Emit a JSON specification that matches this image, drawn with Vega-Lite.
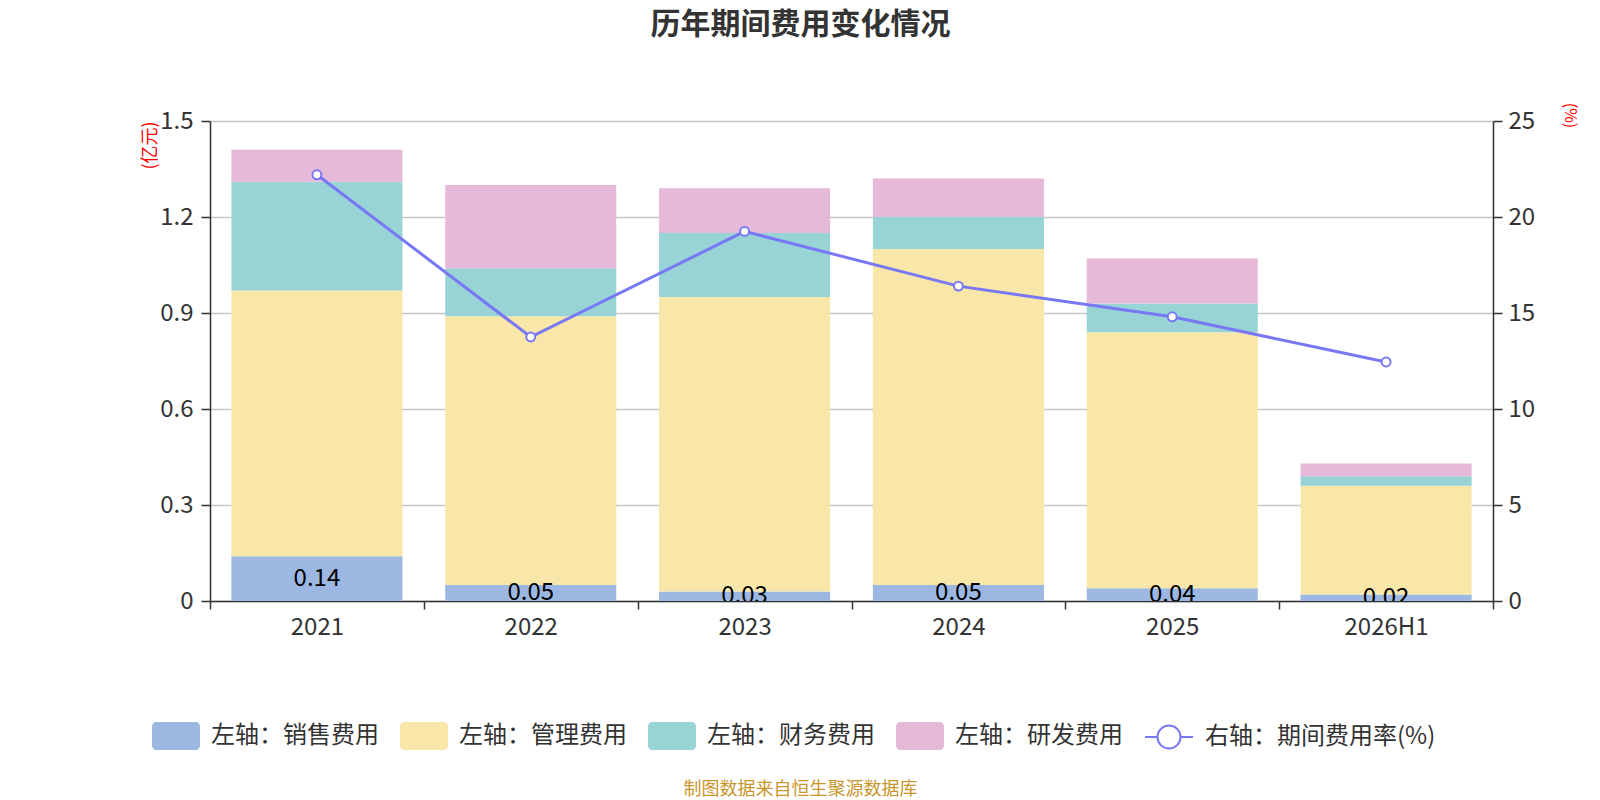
{
  "$schema": "https://vega.github.io/schema/vega-lite/v6.json",
  "width": 1283,
  "height": 480,
  "autosize": "none",
  "padding": {"left": 210, "top": 121, "right": 107, "bottom": 199},
  "background": "white",
  "title": {
    "text": "历年期间费用变化情况",
    "fontSize": 30,
    "fontWeight": "bold",
    "color": "#333333",
    "anchor": "middle",
    "frame": "group",
    "dx": -51,
    "offset": 62
  },
  "datasets": {
    "costs": [
      {"year": "2021", "type": "左轴：销售费用", "value": 0.14},
      {"year": "2021", "type": "左轴：管理费用", "value": 0.83},
      {"year": "2021", "type": "左轴：财务费用", "value": 0.34},
      {"year": "2021", "type": "左轴：研发费用", "value": 0.10},
      {"year": "2022", "type": "左轴：销售费用", "value": 0.05},
      {"year": "2022", "type": "左轴：管理费用", "value": 0.84},
      {"year": "2022", "type": "左轴：财务费用", "value": 0.15},
      {"year": "2022", "type": "左轴：研发费用", "value": 0.26},
      {"year": "2023", "type": "左轴：销售费用", "value": 0.03},
      {"year": "2023", "type": "左轴：管理费用", "value": 0.92},
      {"year": "2023", "type": "左轴：财务费用", "value": 0.20},
      {"year": "2023", "type": "左轴：研发费用", "value": 0.14},
      {"year": "2024", "type": "左轴：销售费用", "value": 0.05},
      {"year": "2024", "type": "左轴：管理费用", "value": 1.05},
      {"year": "2024", "type": "左轴：财务费用", "value": 0.10},
      {"year": "2024", "type": "左轴：研发费用", "value": 0.12},
      {"year": "2025", "type": "左轴：销售费用", "value": 0.04},
      {"year": "2025", "type": "左轴：管理费用", "value": 0.80},
      {"year": "2025", "type": "左轴：财务费用", "value": 0.09},
      {"year": "2025", "type": "左轴：研发费用", "value": 0.14},
      {"year": "2026H1", "type": "左轴：销售费用", "value": 0.02},
      {"year": "2026H1", "type": "左轴：管理费用", "value": 0.34},
      {"year": "2026H1", "type": "左轴：财务费用", "value": 0.03},
      {"year": "2026H1", "type": "左轴：研发费用", "value": 0.04}
    ],
    "typeOrder": [
      {"type": "左轴：销售费用", "rank": 1},
      {"type": "左轴：管理费用", "rank": 2},
      {"type": "左轴：财务费用", "rank": 3},
      {"type": "左轴：研发费用", "rank": 4}
    ],
    "rate": [
      {"year": "2021", "series": "右轴：期间费用率(%)", "rate": 22.2},
      {"year": "2022", "series": "右轴：期间费用率(%)", "rate": 13.75},
      {"year": "2023", "series": "右轴：期间费用率(%)", "rate": 19.25},
      {"year": "2024", "series": "右轴：期间费用率(%)", "rate": 16.4},
      {"year": "2025", "series": "右轴：期间费用率(%)", "rate": 14.8},
      {"year": "2026H1", "series": "右轴：期间费用率(%)", "rate": 12.45}
    ]
  },
  "layer": [
    {
      "data": {"name": "costs"},
      "transform": [
        {"lookup": "type", "from": {"data": {"name": "typeOrder"}, "key": "type", "fields": ["rank"]}}
      ],
      "mark": {"type": "bar", "width": {"band": 0.8}},
      "encoding": {
        "x": {
          "field": "year",
          "type": "nominal",
          "sort": null,
          "scale": {"paddingInner": 0, "paddingOuter": 0},
          "axis": {
            "title": "制图数据来自恒生聚源数据库",
            "titleColor": "#C9962E",
            "titleFontSize": 18,
            "titleFontWeight": "normal",
            "titleX": 590,
            "titleY": 188,
            "titleAlign": "center",
            "titleBaseline": "middle",
            "labelAngle": 0,
            "tickBand": "extent",
            "tickSize": 8,
            "labelPadding": 6
          }
        },
        "y": {
          "field": "value",
          "type": "quantitative",
          "stack": "zero",
          "scale": {"domain": [0, 1.5], "nice": false},
          "axis": {
            "values": [0, 0.3, 0.6, 0.9, 1.2, 1.5],
            "format": ".1~f",
            "grid": true,
            "title": "(亿元)",
            "titleColor": "#FF0000",
            "titleFontSize": 18,
            "titleFontWeight": "normal",
            "titleAngle": -90,
            "titleX": -60,
            "titleY": 24,
            "titleAlign": "center",
            "titleBaseline": "middle",
            "tickSize": 9,
            "labelPadding": 8
          }
        },
        "order": {"field": "rank", "type": "quantitative"},
        "color": {
          "field": "type",
          "type": "nominal",
          "scale": {
            "domain": ["左轴：销售费用", "左轴：管理费用", "左轴：财务费用", "左轴：研发费用"],
            "range": ["#9CB8E2", "#F8E7A8", "#98D4D5", "#E7B9D8"]
          },
          "legend": {
            "orient": "none",
            "legendX": -58,
            "legendY": 591,
            "direction": "horizontal",
            "title": null,
            "labelFontSize": 24,
            "labelColor": "#333333",
            "labelLimit": 400,
            "symbolSize": 2304,
            "symbolType": "M-0.8,-0.58L0.8,-0.58Q1,-0.58,1,-0.38L1,0.38Q1,0.58,0.8,0.58L-0.8,0.58Q-1,0.58,-1,0.38L-1,-0.38Q-1,-0.58,-0.8,-0.58Z",
            "symbolStrokeWidth": 0,
            "symbolOpacity": 1,
            "columnPadding": 21,
            "labelOffset": 11
          }
        }
      }
    },
    {
      "data": {"name": "costs"},
      "transform": [{"filter": "datum.type === '左轴：销售费用'"}],
      "mark": {"type": "text", "clip": true, "fontSize": 24, "color": "#000000", "baseline": "middle"},
      "encoding": {
        "x": {"field": "year", "type": "nominal", "sort": null},
        "y": {
          "field": "value",
          "type": "quantitative",
          "stack": "zero",
          "bandPosition": 0.5,
          "scale": {"domain": [0, 1.5], "nice": false},
          "axis": null
        },
        "detail": {"field": "type"},
        "text": {"field": "value", "type": "quantitative", "format": ".2f"}
      }
    },
    {
      "data": {"name": "rate"},
      "mark": {
        "type": "line",
        "strokeWidth": 3,
        "point": {"filled": true, "fill": "#ffffff", "stroke": "#7878F5", "strokeWidth": 2, "size": 80}
      },
      "encoding": {
        "x": {"field": "year", "type": "nominal", "sort": null},
        "y": {
          "field": "rate",
          "type": "quantitative",
          "scale": {"domain": [0, 25], "nice": false},
          "axis": {
            "orient": "right",
            "values": [0, 5, 10, 15, 20, 25],
            "grid": false,
            "title": "(%)",
            "titleColor": "#FF0000",
            "titleFontSize": 16,
            "titleFontWeight": "normal",
            "titleAngle": 90,
            "titleX": 76,
            "titleY": -6,
            "titleAlign": "center",
            "titleBaseline": "middle",
            "tickSize": 9,
            "labelPadding": 6
          }
        },
        "stroke": {
          "field": "series",
          "type": "nominal",
          "scale": {"domain": ["右轴：期间费用率(%)"], "range": ["#7878F5"]},
          "legend": {
            "orient": "none",
            "legendX": 934,
            "legendY": 591,
            "direction": "horizontal",
            "title": null,
            "labelFontSize": 24,
            "labelColor": "#333333",
            "labelLimit": 400,
            "symbolSize": 2304,
            "symbolType": "M-1,0L-0.48,0M0.48,0L1,0M0.48,0A0.48,0.48,0,1,1,-0.48,0A0.48,0.48,0,1,1,0.48,0",
            "symbolStrokeWidth": 2,
            "symbolFillColor": "transparent",
            "symbolOpacity": 1,
            "labelOffset": 11
          }
        }
      }
    }
  ],
  "resolve": {"scale": {"y": "independent"}},
  "config": {
    "font": "Noto Sans CJK SC",
    "view": {"stroke": null},
    "axis": {
      "labelFontSize": 24,
      "labelColor": "#333333",
      "domainColor": "#333333",
      "domainWidth": 1.5,
      "tickColor": "#333333",
      "tickWidth": 1.5,
      "gridColor": "#C8C8C8",
      "gridWidth": 1.5,
      "labelFont": "Noto Sans CJK SC",
      "titleFont": "Noto Sans CJK SC"
    },
    "legend": {"labelFont": "Noto Sans CJK SC"},
    "title": {"font": "Noto Sans CJK SC"}
  }
}
